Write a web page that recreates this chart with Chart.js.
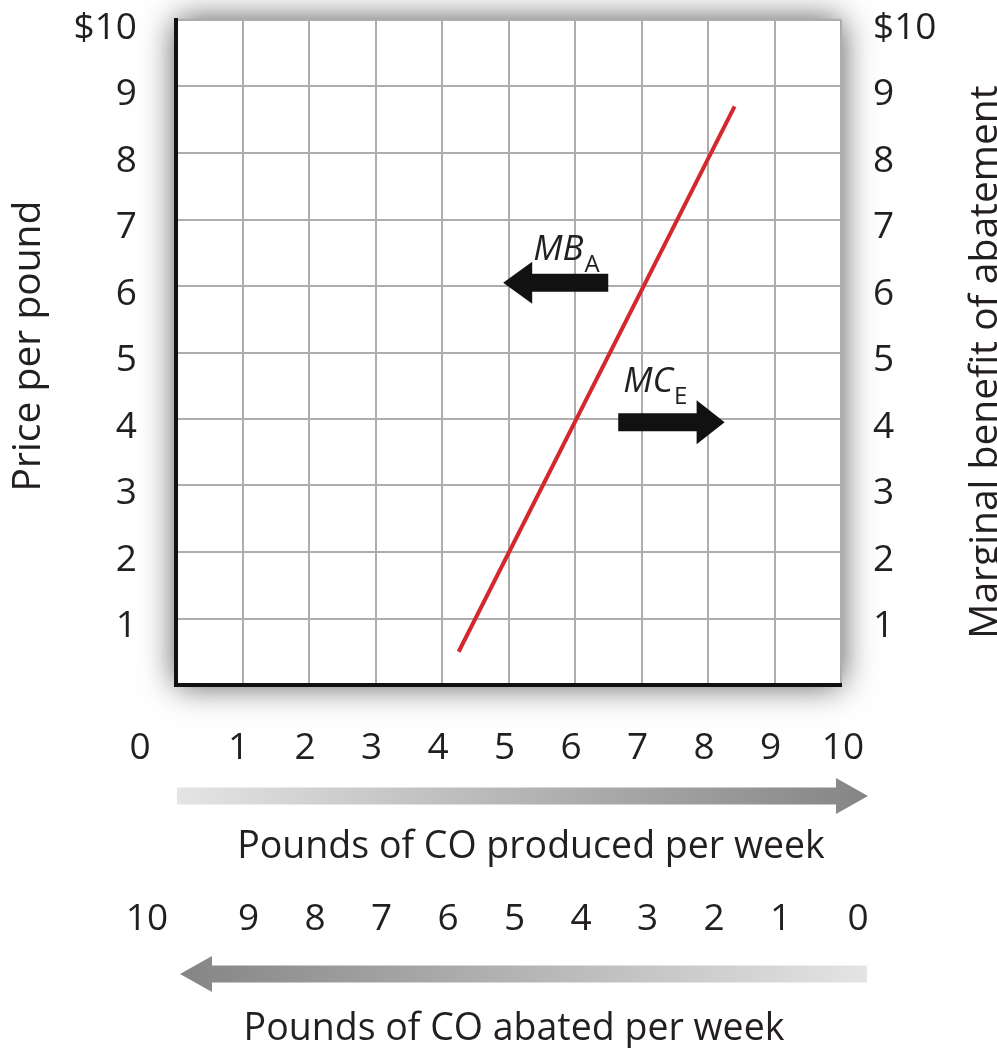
<!DOCTYPE html>
<html>
<head>
<meta charset="utf-8">
<script src="https://cdn.jsdelivr.net/npm/chart.js@4.4.1/dist/chart.umd.min.js"></script>
<style>
  html, body { margin: 0; padding: 0; background: #fff; }
  canvas { display: block; }
</style>
</head>
<body>
<canvas id="abatementChart" width="997" height="1048"></canvas>
<script>
// values
const priceTickLabels = ['', '1', '2', '3', '4', '5', '6', '7', '8', '9', '$10'];
const producedLabels = ['0', '1', '2', '3', '4', '5', '6', '7', '8', '9', '10'];
const abatedLabels = ['10', '9', '8', '7', '6', '5', '4', '3', '2', '1', '0'];

// the red curve (MB_A = MC_E)
const curveX = [4.25, 8.4];
const curveY = [0.5, 8.7];

// black arrows: [tail, tip]
const mbArrowX = [6.5, 4.92];
const mbArrowY = [6.05, 6.05];
const mcArrowX = [6.65, 8.25];
const mcArrowY = [3.95, 3.95];

const ink = '#231f20';
const font = "'Open Sans', sans-serif";
Chart.defaults.font.family = font;
Chart.defaults.color = ink;

function blockArrow(ctx, x0, x1, y, shaft, headLen, headHalf) {
    const dir = Math.sign(x1 - x0);
    const hb = x1 - dir * headLen;
    ctx.beginPath();
    ctx.moveTo(x0, y - shaft / 2);
    ctx.lineTo(hb, y - shaft / 2);
    ctx.lineTo(hb, y - headHalf);
    ctx.lineTo(x1, y);
    ctx.lineTo(hb, y + headHalf);
    ctx.lineTo(hb, y + shaft / 2);
    ctx.lineTo(x0, y + shaft / 2);
    ctx.closePath();
    ctx.fill();
}

function subLabel(ctx, x, y, main, sub) {
    ctx.textAlign = 'left';
    ctx.textBaseline = 'alphabetic';
    ctx.font = 'italic 35px ' + font;
    ctx.fillText(main, x, y);
    const w = ctx.measureText(main).width;
    ctx.font = '24px ' + font;
    ctx.fillText(sub, x + w + 1, y + 12);
}

const extras = {
    id: 'extras',
    beforeDraw(chart) {
        const { ctx, chartArea: a } = chart;
        ctx.save();
        ctx.fillStyle = '#fff';
        ctx.shadowColor = 'rgba(0,0,0,0.7)';
        ctx.shadowBlur = 32;
        ctx.fillRect(a.left, a.top, a.width, a.height);
        ctx.restore();
    },
    afterDatasetsDraw(chart) {
        const { ctx, scales: { x, y } } = chart;
        ctx.save();
        ctx.fillStyle = '#111';
        const mbY = y.getPixelForValue(mbArrowY[0]);
        const mbTip = x.getPixelForValue(mbArrowX[1]);
        blockArrow(ctx, x.getPixelForValue(mbArrowX[0]), mbTip, mbY, 18, 29, 21);
        const mcY = y.getPixelForValue(mcArrowY[0]);
        const mcTail = x.getPixelForValue(mcArrowX[0]);
        blockArrow(ctx, mcTail, x.getPixelForValue(mcArrowX[1]), mcY, 18, 28, 22);

        ctx.fillStyle = ink;
        subLabel(ctx, mbTip + 30, mbY - 23, 'MB', 'A');
        subLabel(ctx, mcTail + 5, mcY - 30, 'MC', 'E');
        ctx.restore();
    },
    afterDraw(chart) {
        const { ctx, scales: { x } } = chart;
        ctx.save();
        ctx.fillStyle = ink;
        ctx.font = '37px ' + font;
        ctx.textAlign = 'center';
        ctx.textBaseline = 'middle';
        const last = producedLabels.length - 1;
        producedLabels.forEach((t, i) => {
            let off = -4;
            if (i === 0) off = -36;
            if (i === last) off = 2;
            ctx.fillText(t, x.getPixelForValue(i) + off, 748);
        });
        abatedLabels.forEach((t, i) => {
            let off = 6;
            if (i === 0) off = -29;
            if (i === last) off = 17;
            ctx.fillText(t, x.getPixelForValue(i) + off, 919);
        });

        // gradient direction arrows
        let g = ctx.createLinearGradient(177, 0, 868, 0);
        g.addColorStop(0, '#e4e4e4');
        g.addColorStop(1, '#858585');
        ctx.fillStyle = g;
        blockArrow(ctx, 177, 868, 796, 17, 32, 18);
        g = ctx.createLinearGradient(180, 0, 867, 0);
        g.addColorStop(0, '#858585');
        g.addColorStop(1, '#e4e4e4');
        ctx.fillStyle = g;
        blockArrow(ctx, 867, 180, 974, 17, 32, 18);

        ctx.fillStyle = ink;
        ctx.textBaseline = 'alphabetic';
        ctx.font = '37.5px ' + font;
        ctx.fillText('Pounds of CO produced per week', 531, 858);
        ctx.fillText('Pounds of CO abated per week', 514, 1040);

        ctx.font = '39px ' + font;
        ctx.save();
        ctx.translate(40, 346);
        ctx.rotate(-Math.PI / 2);
        ctx.fillText('Price per pound', 0, 0);
        ctx.restore();

        ctx.save();
        ctx.translate(997, 362);
        ctx.rotate(-Math.PI / 2);
        ctx.fillText('Marginal benefit of abatement', 0, 0);
        ctx.restore();
        ctx.restore();
    }
};

function fixWidth(w) {
    return function (scale) {
        scale.width = w;
        scale.paddingTop = 0;
        scale.paddingBottom = 0;
    };
}

const ctx = document.getElementById('abatementChart').getContext('2d');
new Chart(ctx, {
    type: 'scatter',
    data: {
        datasets: [{
            data: curveX.map((v, i) => ({ x: v, y: curveY[i] })),
            showLine: true,
            borderColor: '#d3282c',
            borderWidth: 4,
            pointRadius: 0
        }]
    },
    options: {
        responsive: false,
        animation: false,
        events: [],
        layout: { padding: { top: 20, left: 0, right: 0, bottom: 0 } },
        plugins: { legend: { display: false }, tooltip: { enabled: false } },
        scales: {
            x: {
                type: 'linear', min: 0, max: 10,
                ticks: { stepSize: 1, display: false },
                grid: { color: '#adadad', lineWidth: 2, drawTicks: false },
                border: { color: '#111', width: 4 },
                afterFit(scale) {
                    scale.height = 363;
                    scale.paddingLeft = 0;
                    scale.paddingRight = 0;
                }
            },
            y: {
                type: 'linear', min: 0, max: 10, position: 'left',
                ticks: {
                    stepSize: 1, padding: 39, labelOffset: 8,
                    font: { size: 37 }, color: ink,
                    callback: v => priceTickLabels[v]
                },
                grid: { color: '#adadad', lineWidth: 2, drawTicks: false },
                border: { color: '#111', width: 4 },
                afterFit: fixWidth(176)
            },
            y2: {
                type: 'linear', min: 0, max: 10, position: 'right',
                ticks: {
                    stepSize: 1, padding: 32, labelOffset: 8,
                    font: { size: 37 }, color: ink,
                    callback: v => priceTickLabels[v]
                },
                grid: { display: false, drawTicks: false },
                border: { display: false },
                afterFit: fixWidth(156)
            }
        }
    },
    plugins: [extras]
});
</script>
</body>
</html>
